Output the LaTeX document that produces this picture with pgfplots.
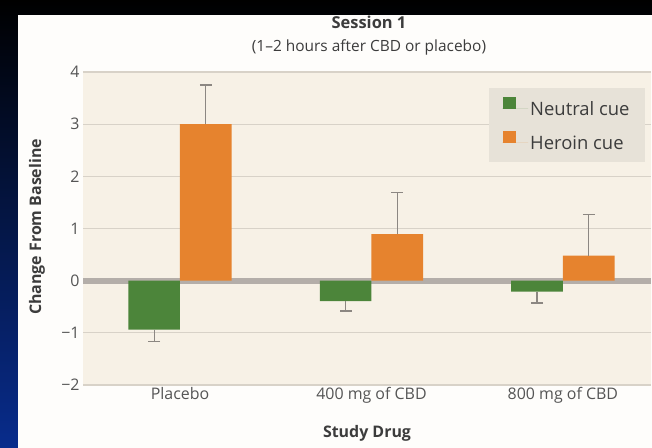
\documentclass[border=0pt]{standalone}
\usepackage{pgfplots}
\pgfplotsset{compat=1.18}
\usepackage{fontspec}
\setmainfont{Open Sans}

\definecolor{navyblue}{RGB}{8,44,140}
\definecolor{panel}{RGB}{254,253,251}
\definecolor{plotbg}{RGB}{247,241,230}
\definecolor{gridgray}{RGB}{216,210,200}
\definecolor{zerogray}{RGB}{180,174,169}
\definecolor{cuegreen}{RGB}{76,133,58}
\definecolor{cueorange}{RGB}{230,131,46}
\definecolor{errgray}{RGB}{140,135,130}
\definecolor{legendbg}{RGB}{231,226,216}
\definecolor{labelgray}{RGB}{60,60,60}
\definecolor{tickgray}{RGB}{85,85,85}

\pgfplotsset{
  sqlegend/.style={legend image code/.code={%
      \fill[##1] (0.5bp,0bp) rectangle (13.5bp,12bp);
      \path (0bp,0bp) -- (26bp,0bp);}},
}

\begin{document}
\begin{tikzpicture}
\useasboundingbox (0,0) rectangle (652bp,448bp);
% slide background and white panel
\shade[top color=black, bottom color=navyblue] (0,0) rectangle (652bp,448bp);
\fill[panel] (18bp,0) rectangle (652bp,433bp);
% chart title
\node[anchor=base, font=\bfseries\fontsize{16.5}{19}\selectfont, text=labelgray, inner sep=0pt]
  at (369bp,419bp) {Session 1};
\node[anchor=base, font=\fontsize{15.5}{18}\selectfont, text=labelgray, inner sep=0pt]
  at (369bp,396bp) {(1–2 hours after CBD or placebo)};
\begin{axis}[
  at={(83bp,63bp)}, anchor=south west,
  scale only axis, width=568bp, height=313bp,
  xmin=-0.5065, xmax=2.46, ymin=-2, ymax=4,
  ybar=0pt, bar width=0.27,
  axis background/.style={fill=plotbg},
  axis line style={draw=none},
  major tick length=0pt,
  ymajorgrids,
  major grid style={gridgray, line width=1.3bp},
  ytick={-2,-1,0,1,2,3,4},
  yticklabels={−2,−1,0,1,2,3,4},
  xtick={0,1,2},
  xticklabels={Placebo,400 mg of CBD,800 mg of CBD},
  xticklabel style={anchor=base, yshift=-14bp, text=tickgray,
    font=\fontsize{16}{19}\selectfont},
  yticklabel style={text=tickgray, font=\fontsize{16}{19}\selectfont},
  xlabel={Study Drug},
  xlabel style={at={(axis description cs:0.5,-0.1693)}, anchor=base,
    font=\bfseries\fontsize{16}{19}\selectfont, text=labelgray},
  ylabel={Change From Baseline},
  ylabel style={at={(axis description cs:-0.081,0.505)}, anchor=center,
    font=\bfseries\fontsize{16}{19}\selectfont, text=labelgray},
  legend style={at={(rel axis cs:0.989,0.949)}, anchor=north east,
    draw=none, fill=legendbg, inner xsep=13bp, inner ysep=8.5bp,
    row sep=11bp, cells={anchor=west},
    nodes={inner sep=2bp, text height=16bp, text depth=2bp},
    font=\fontsize{18.5}{21}\selectfont, text=labelgray},
  legend cell align=left,
]
% thick baseline at zero, behind the bars
\draw[zerogray, line width=6bp] (axis cs:-0.5065,0) -- (axis cs:2.46,0);
\addplot[ybar, sqlegend, fill=cuegreen, draw=none,
  error bars/.cd, y dir=minus, y explicit,
  error bar style={errgray, line width=1.2bp},
  error mark options={rotate=90, errgray, mark size=6bp, line width=1.2bp}]
  coordinates {
    (0,-0.94) -= (0,0.22)
    (1,-0.39) -= (0,0.19)
    (2,-0.21) -= (0,0.22)
  };
\addlegendentry{Neutral cue}
\addplot[ybar, sqlegend, fill=cueorange, draw=none,
  error bars/.cd, y dir=plus, y explicit,
  error bar style={errgray, line width=1.2bp},
  error mark options={rotate=90, errgray, mark size=6bp, line width=1.2bp}]
  coordinates {
    (0,3.00) += (0,0.75)
    (1,0.89) += (0,0.80)
    (2,0.48) += (0,0.79)
  };
\addlegendentry{Heroin cue}
\end{axis}
\end{tikzpicture}
\end{document}
